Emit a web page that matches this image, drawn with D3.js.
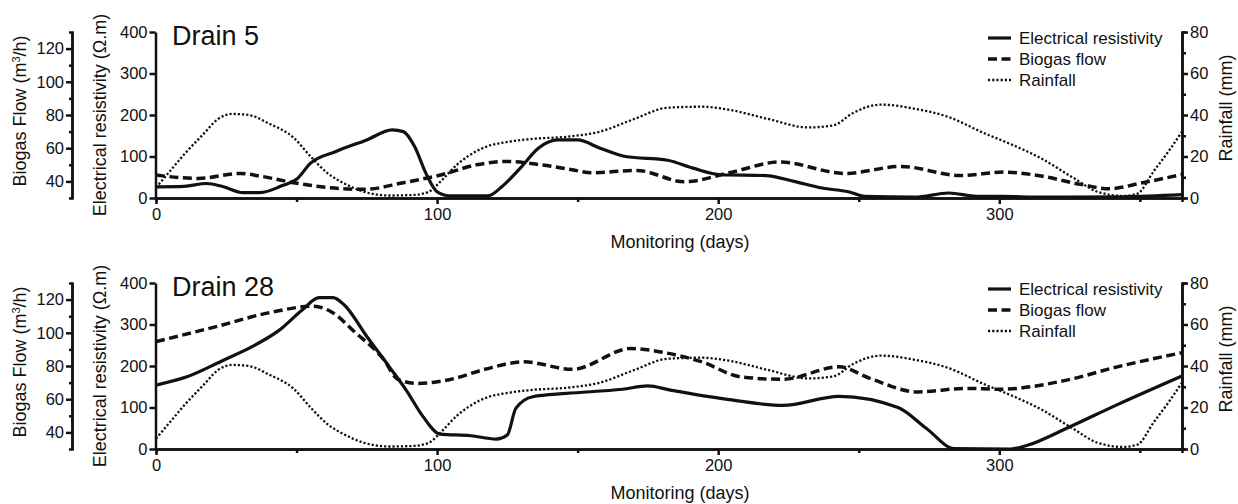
<!DOCTYPE html>
<meta charset="utf-8">
<script src="https://d3js.org/d3.v7.min.js"></script>
<style>
  body { margin: 0; background: #fff; }
  text { font-family: "Liberation Sans", Arial, sans-serif; fill: #111; }
</style>
<body>
<div id="chart"></div>
<script>

// rainfall is the same for both drains, [day, mm]
var rainfall = [[0,5],[5,13],[10,21],[17,31],[22,38],[27,40.5],[33,40],[40,36],[49,29],[55,20],[61,12],
  [67,7],[74,3],[83,1.2],[92,1.5],[97,3],[102,9],[107,16],[112,21],[118,25],[125,27],[134,28.5],
  [146,29.5],[158,32],[170,38],[182,43.5],[194,44],[204,42.5],[218,38],[232,34],[241,35],[248,41],
  [258,45],[270,43],[282,39],[295,31],[304,26],[315,19],[326,10],[335,3],[344,1],[349,2],[355,13],
  [361,24],[365,32]];

// drain 5, [day, ohm.m] and [day, m3/h]
var d5Resistivity = [[0,27],[10,28],[18,35],[24,27],[31,13],[37,13],[45,30],[50,45],[55,84],[64,112],
  [75,140],[84,164],[88,160],[92,124],[96,60],[100,15],[105,5],[118,5],[123,27],[130,75],[136,120],
  [143,140],[150,140],[158,120],[167,100],[182,91],[191,72],[201,56],[217,54],[227,40],[237,24],
  [247,14],[252,4],[270,2],[282,12],[292,4],[301,4],[315,2],[344,3],[365,8]];
var d5Biogas = [[0,43.8],[15,41.8],[30,44.8],[37,43.2],[49,39.2],[62,36.2],[74,35.2],[88,39.2],
  [102,44.2],[114,50],[125,52],[137,50],[148,47],[155,45.2],[171,46.6],[188,39.8],[204,45.2],
  [222,51.7],[245,44.8],[265,49],[286,43.6],[302,45.6],[315,43.2],[329,38.2],[339,35.6],[351,39.2],
  [365,44.2]];

// drain 28
var d28Resistivity = [[0,154],[11,174],[24,214],[34,246],[44,287],[52,335],[58,365],[63,365],[67,347],
  [75,271],[83,198],[89,142],[95,78],[101,36],[112,32],[121,24],[125,34],[128,98],[134,126],[146,134],
  [166,144],[175,152],[183,142],[204,119],[223,105],[243,127],[264,100],[274,50],[284,1],[304,0],
  [310,9],[324,50],[342,107],[365,176]];
var d28Biogas = [[0,94.7],[22,104],[40,112],[56,116],[62,113],[71,100],[81,84],[86,72],[93,69.5],
  [105,72],[117,78],[131,82.5],[148,78],[169,90.5],[181,88],[194,82.6],[208,73.5],[223,72],
  [243,79.5],[254,72.5],[271,64.4],[288,66.5],[300,66],[324,71.5],[342,79.5],[365,88]];

var panels = [
  {title: "Drain 5", res: d5Resistivity, bio: d5Biogas, oy: 0},
  {title: "Drain 28", res: d28Resistivity, bio: d28Biogas, oy: 251}
];
var legendItems = ["Electrical resistivity", "Biogas flow", "Rainfall"];

var svg = d3.select("#chart").append("svg")
  .attr("width", 1238).attr("height", 504);

var x = d3.scaleLinear().domain([0, 365]).range([156, 1182]);

var styles = {
  res: {w: 3.2, dash: null},
  bio: {w: 3.5, dash: "9,4.5"},
  rain: {w: 2.3, dash: "2.2,2"}
};

function styleAxis(g, fs) {
  g.selectAll("path, line").attr("stroke", "#111").attr("stroke-width", 2.5);
  g.selectAll("text").style("font-size", fs + "px").attr("fill", "#111");
}

panels.forEach(function(p) {
  var oy = p.oy;
  var yRes = d3.scaleLinear().domain([0, 400]).range([198 + oy, 32 + oy]);
  var yRain = d3.scaleLinear().domain([0, 80]).range([198 + oy, 32 + oy]);
  var yBio = d3.scaleLinear().domain([30, 130]).range([198 + oy, 32 + oy]);
  var g = svg.append("g");

  // biogas axis (far left)
  g.append("g").attr("transform", "translate(72,0)")
    .call(d3.axisLeft(yBio).tickValues([50, 70, 90, 110]).tickSize(3).tickFormat(""))
    .call(styleAxis, 16.5);
  g.append("g").attr("transform", "translate(72,0)")
    .call(d3.axisLeft(yBio).tickValues([40, 60, 80, 100, 120]).tickSize(6).tickSizeOuter(0).tickPadding(2))
    .call(styleAxis, 16.5);

  // resistivity axis
  g.append("g").attr("transform", "translate(155.5,0)")
    .call(d3.axisLeft(yRes).tickValues([0, 100, 200, 300, 400]).tickSize(6).tickSizeOuter(0).tickPadding(2))
    .call(styleAxis, 16.5);

  // rainfall axis
  g.append("g").attr("transform", "translate(1182,0)")
    .call(d3.axisRight(yRain).tickValues([10, 30, 50, 70]).tickSize(4).tickFormat(""))
    .call(styleAxis, 16.5);
  g.append("g").attr("transform", "translate(1182,0)")
    .call(d3.axisRight(yRain).tickValues([0, 20, 40, 60, 80]).tickSize(6).tickSizeOuter(0).tickPadding(2))
    .call(styleAxis, 16.5);

  // x axis
  g.append("g").attr("transform", "translate(0," + (198 + oy) + ")")
    .call(d3.axisBottom(x).tickValues([50, 150, 250, 350]).tickSize(4).tickFormat(""))
    .call(styleAxis, 16.5);
  g.append("g").attr("transform", "translate(0," + (198 + oy) + ")")
    .call(d3.axisBottom(x).tickValues([0, 100, 200, 300]).tickSize(6).tickSizeOuter(0).tickPadding(4))
    .call(styleAxis, 16.5);

  // axis titles
  var t1 = g.append("text")
    .attr("transform", "translate(26," + (111 + oy) + ") rotate(-90)")
    .attr("text-anchor", "middle").style("font-size", "18px");
  t1.append("tspan").text("Biogas Flow (m");
  t1.append("tspan").attr("baseline-shift", "super").style("font-size", "11px").text("3");
  t1.append("tspan").text("/h)");

  g.append("text")
    .attr("transform", "translate(106," + (115 + oy) + ") rotate(-90)")
    .attr("text-anchor", "middle").style("font-size", "18px")
    .text("Electrical resistivity (\u03A9.m)");

  g.append("text")
    .attr("transform", "translate(1232," + (108 + oy) + ") rotate(-90)")
    .attr("text-anchor", "middle").style("font-size", "18px")
    .text("Rainfall (mm)");

  g.append("text")
    .attr("x", 680).attr("y", 248 + oy)
    .attr("text-anchor", "middle").style("font-size", "18px")
    .text("Monitoring (days)");

  g.append("text")
    .attr("x", 172).attr("y", 45 + oy)
    .style("font-size", "27px")
    .text(p.title);

  // lines
  function draw(data, yScale, st) {
    var line = d3.line()
      .x(function(d) { return x(d[0]); })
      .y(function(d) { return yScale(d[1]); })
      .curve(d3.curveMonotoneX);
    g.append("path").datum(data)
      .attr("fill", "none").attr("stroke", "#111")
      .attr("stroke-width", st.w)
      .attr("stroke-dasharray", st.dash)
      .attr("stroke-linejoin", "round")
      .attr("d", line);
  }
  draw(rainfall, yRain, styles.rain);
  draw(p.bio, yBio, styles.bio);
  draw(p.res, yRes, styles.res);

  // legend
  var keys = ["res", "bio", "rain"];
  legendItems.forEach(function(name, i) {
    var ly = 38 + oy + i * 21;
    g.append("line")
      .attr("x1", 988).attr("x2", 1011).attr("y1", ly).attr("y2", ly)
      .attr("stroke", "#111").attr("stroke-width", styles[keys[i]].w)
      .attr("stroke-dasharray", styles[keys[i]].dash);
    g.append("text")
      .attr("x", 1019).attr("y", ly + 6)
      .style("font-size", "17px")
      .text(name);
  });
});

</script>
</body>
